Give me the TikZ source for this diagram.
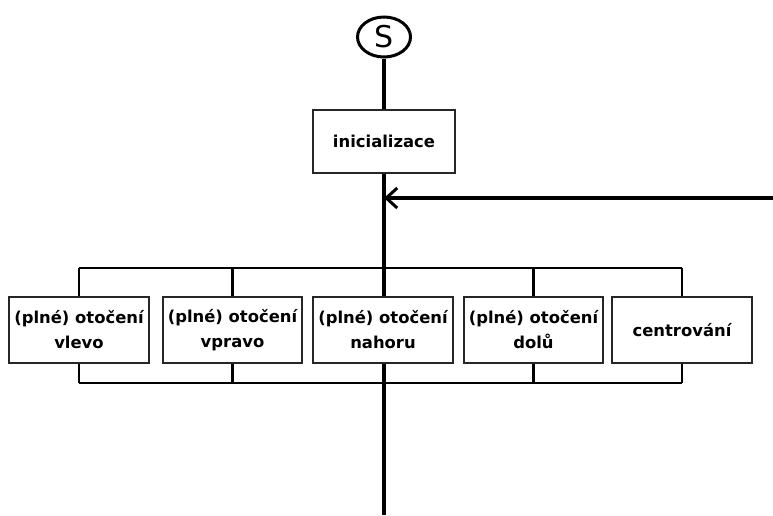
\documentclass[tikz,border=0pt]{standalone}
\usepackage{fontspec}
\setmainfont{DejaVu Sans}
\usetikzlibrary{arrows.meta,shapes.geometric}
\begin{document}
\begin{tikzpicture}[x=1pt,y=-1pt,
  box/.style={draw=black!85,line width=1.4pt,fill=white,minimum width=140pt,minimum height=66pt,inner sep=0pt,align=center,font=\bfseries\fontsize{16.4}{25}\selectfont},
  main/.style={line width=3.6pt},
  bus/.style={line width=2.4pt}]
\useasboundingbox (0,0) rectangle (773,515);
\node[draw,line width=3pt,ellipse,minimum width=53pt,minimum height=40pt,inner sep=0pt,font=\fontsize{30}{32}\selectfont] (s) at (384,37) {S};
\node[box,minimum width=142pt,minimum height=63pt] (init) at (384,141.5) {inicializace};
\coordinate (j) at (384,198);
\coordinate (r) at (773,198);
\coordinate (end) at (384,515);
\coordinate (tl) at (79,268);
\coordinate (tr) at (682,268);
\coordinate (bl) at (79,383);
\coordinate (br) at (682,383);
\draw[main] (s) -- (init);
\draw[main] (init) -- (end);
\draw[main,-{Straight Barb[length=11pt,width=20pt,line width=3pt]}] (r) -- (j);
\draw[bus] (tl) -- (tr);
\draw[bus] (bl) -- (br);
\node[box] (b1) at (79,330) {(plné) otočení\\vlevo};
\node[box,minimum width=139pt] (b2) at (232.5,330) {(plné) otočení\\vpravo};
\node[box] (b3) at (383,330) {(plné) otočení\\nahoru};
\node[box,minimum width=139pt] (b4) at (533.5,330) {(plné) otočení\\dolů};
\node[box] (b5) at (682,330) {centrování};
\foreach \b/\x in {b1/79,b2/232.5,b4/533.5,b5/682} {
  \draw[bus] (\b.north) -- (\x,268);
  \draw[bus] (\b.south) -- (\x,383);
}
\end{tikzpicture}
\end{document}
